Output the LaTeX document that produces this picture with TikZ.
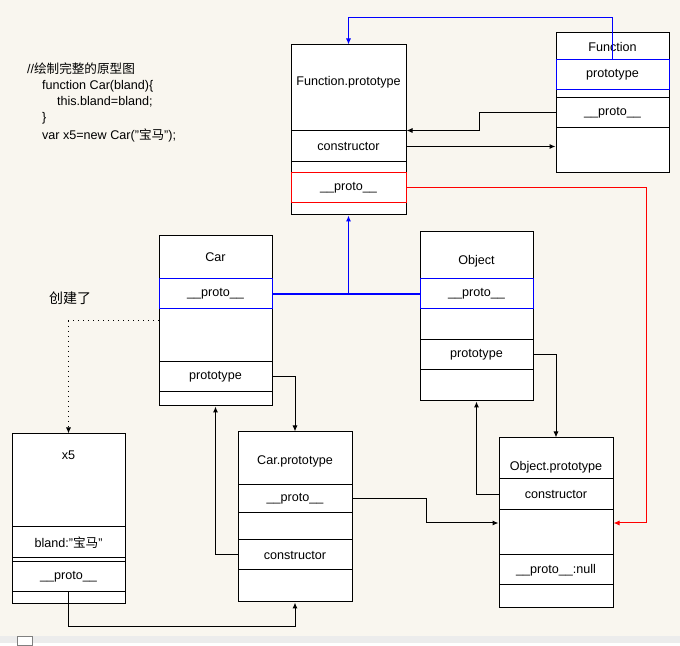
\documentclass[tikz,border=0pt]{standalone}
\usepackage{fontspec}
\setmainfont{Liberation Sans}
\newfontfamily\cjk{Noto Sans CJK SC}
\usetikzlibrary{arrows.meta}
\definecolor{bgc}{RGB}{249,246,239}
\begin{document}
\begin{tikzpicture}[
    x=0.5pt, y=-0.5pt,
    font=\fontsize{6.3}{7.5}\selectfont,
    box/.style={draw, fill=white, inner sep=0pt, line width=0.5pt},
    cell/.style={draw, inner sep=0pt, line width=0.5pt, minimum width=56.5pt, minimum height=15pt},
    link/.style={line width=0.5pt, -{Latex[length=3pt,width=2.5pt]}}
]
% Background
\fill[bgc] (0,0) rectangle (680,643);
\fill[gray!15] (0,636) rectangle (680,643);
\draw[gray, fill=white] (17,636) rectangle (32,645);

% Code
\node[anchor=west] (c1) at (20,69) {//{\cjk 绘制完整的原型图}};
\node[anchor=west] (c2) at (35,86) {function Car(bland)\{};
\node[anchor=west] (c3) at (50,102) {this.bland=bland;};
\node[anchor=west] (c4) at (35,118) {\}};
\node[anchor=west] (c5) at (35,135) {var x5=new Car("{\cjk 宝马}");};
\node[anchor=west] (made) at (42,298) {\cjk\fontsize{7}{8}\selectfont 创建了};

% Function.prototype
\node[box, minimum width=57.5pt, minimum height=85pt] (fp) at (348.5,130) {};
\node (fpn) at (348.5,82) {Function.prototype};
\node[cell, minimum width=57.5pt, minimum height=15.5pt] (fpc) at (348.5,146.5) {constructor};
\node[cell, draw=red, minimum width=57.5pt] (fpp) at (348.5,188) {\_\_proto\_\_};

% Function
\node[box, minimum width=56.5pt, minimum height=70pt] (fn) at (612.5,103) {};
\node (fnn) at (612.5,47) {Function};
\node[cell, draw=blue] (fnt) at (612.5,75) {prototype};
\node[cell] (fnp) at (612.5,113) {\_\_proto\_\_};

% Car
\node[box, minimum width=56.5pt, minimum height=85pt] (car) at (215.5,321) {};
\node (carn) at (215.5,257) {Car};
\node[cell, draw=blue] (carp) at (215.5,294) {\_\_proto\_\_};
\node[cell] (cart) at (215.5,377) {prototype};

% Object
\node[box, minimum width=56.5pt, minimum height=84.5pt] (obj) at (476.5,316.5) {};
\node (objn) at (476.5,261) {Object};
\node[cell, minimum height=15.5pt] (objb) at (476.5,324.5) {};
\node[cell, draw=blue] (objp) at (476.5,294) {\_\_proto\_\_};
\node[cell] (objt) at (476.5,355) {prototype};

% x5
\node[box, minimum width=56.5pt, minimum height=85pt] (xf) at (68.5,519) {};
\node (xfn) at (68.5,455) {x5};
\node[cell, minimum height=15.5pt] (xfb) at (68.5,542.5) {bland:"{\cjk 宝马}"};
\node[cell] (xfp) at (68.5,577) {\_\_proto\_\_};

% Car.prototype
\node[box, minimum width=57pt, minimum height=85pt] (cp) at (295,517) {};
\node (cpn) at (295,461) {Car.prototype};
\node[cell, minimum width=57pt, minimum height=14pt] (cpp) at (295,499) {\_\_proto\_\_};
\node[cell, minimum width=57pt] (cpc) at (295,555) {constructor};

% Object.prototype
\node[box, minimum width=57pt, minimum height=85pt] (op) at (556,523) {};
\node (opn) at (556,467) {Object.prototype};
\node[cell, minimum width=57pt, minimum height=15.5pt] (opc) at (556,494.5) {constructor};
\node[cell, minimum width=57pt] (opl) at (556,570) {\_\_proto\_\_:null};

% Connectors
\draw[link, blue] (fnt.north) -- ++(0,-42) -| (fp.north);
\draw[link] (fnp.west) -- ++(-76,0) |- (fpc.north east);
\draw[link] (fpc.east) -- (fpc.east -| fn.west);
\draw[link, red] (fpp.east) -- ++(240,0) |- (op.east);
\draw[line width=0.6pt, draw=blue] (carp.east) -- (objp.west);
\draw[link, blue] (carp.east -| fp.south) -- (fp.south);
\draw[link, dotted] (car.west) -| (xf.north);
\draw[link] (cart.east) -| (cp.north);
\draw[link] (cpc.west) -| (car.south);
\draw[link] (xfp.south) -- ++(0,34) -| (cp.south);
\draw[link] (cpp.east) -- ++(74,0) |- (op.west);
\draw[link] (opc.west) -| (obj.south);
\draw[link] (objt.east) -| (op.north);
\end{tikzpicture}
\end{document}
